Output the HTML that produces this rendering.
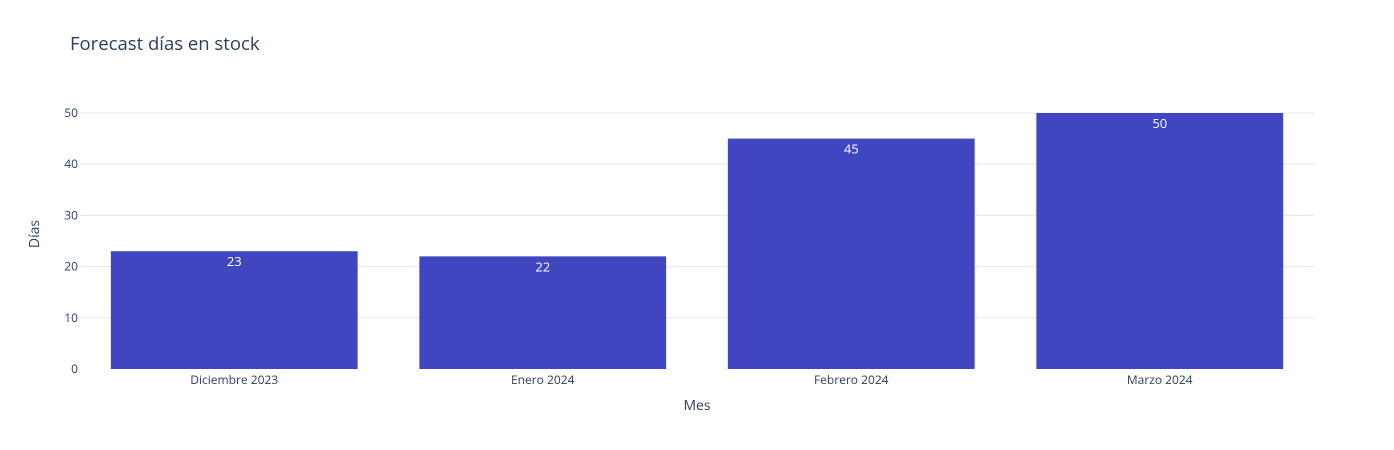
<!DOCTYPE html>
<html><head><meta charset="utf-8"><style>
body{margin:0;background:#fff;}
svg{display:block;font-family:"Open Sans","Liberation Sans",sans-serif;}
</style></head><body>
<svg id="chart" width="1394" height="450">
<text x="70" y="50" font-size="18.5" fill="#2a3f5f">Forecast días en stock</text>
<g id="grid"></g>
<g id="bars"></g>
<g id="xt"></g>
<text x="697" y="410" font-size="14" fill="#2a3f5f" text-anchor="middle">Mes</text>
<text transform="translate(39,234) rotate(-90)" font-size="14" fill="#2a3f5f" text-anchor="middle">Días</text>
</svg>
<script>
const categories=["Diciembre 2023","Enero 2024","Febrero 2024","Marzo 2024"];
const values=[23,22,45,50];
const yTicks=[0,10,20,30,40,50];
const NS="http://www.w3.org/2000/svg";
const x0=80,x1=1314,yb=369,yt=113,ymax=50;
const band=(x1-x0)/categories.length;
function y(v){return yb-(v/ymax)*(yb-yt);}
function xc(i){return x0+band*(i+0.5);}
function mk(t,a,p){const e=document.createElementNS(NS,t);for(const k in a)e.setAttribute(k,a[k]);p.appendChild(e);return e;}
const g=document.getElementById('grid');
yTicks.forEach(v=>{
  if(v>0){const l=mk('line',{x1:x0,x2:x1,y1:y(v),y2:y(v),stroke:'#e5e5e5','stroke-width':1},g);
  
  }
  const t=mk('text',{x:x0-2,y:y(v)+4,'font-size':12,fill:'#2a3f5f','text-anchor':'end'},g);
  t.textContent=v;
  
  
});
const b=document.getElementById('bars');
values.forEach((v,i)=>{
  const w=band*0.8;
  const r=mk('rect',{x:xc(i)-w/2,y:y(v),width:w,height:yb-y(v),fill:'#4046c0'},b);
  
  
  const t=mk('text',{x:xc(i),y:y(v)+15,'font-size':13,fill:'#fff','text-anchor':'middle'},b);
  t.textContent=v;
  
  
  const c=mk('text',{x:xc(i),y:yb+15,'font-size':12,fill:'#2a3f5f','text-anchor':'middle'},document.getElementById('xt'));
  c.textContent=categories[i];
  
  
});
</script>
</body></html>
